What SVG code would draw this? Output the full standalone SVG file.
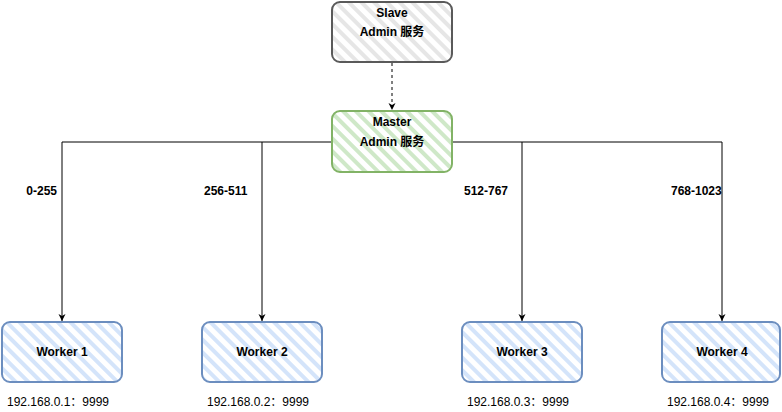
<svg xmlns="http://www.w3.org/2000/svg" width="782" height="412" viewBox="0 0 782 412">
<style>
text{font-family:"Liberation Sans","Noto Sans CJK SC",Arial,sans-serif;font-size:12px;fill:#000}
.b{font-weight:bold}
.c{text-anchor:middle}
.e{fill:none;stroke:#000;stroke-width:1}
</style>
<defs>
<pattern id="hg" width="9" height="9" patternUnits="userSpaceOnUse" patternTransform="rotate(-45)"><rect width="4" height="9" fill="#e6e6e6"/></pattern>
<pattern id="hgr" width="9" height="9" patternUnits="userSpaceOnUse" patternTransform="rotate(-45)"><rect width="4" height="9" fill="#cfe8c8"/></pattern>
<pattern id="hb" width="9" height="9" patternUnits="userSpaceOnUse" patternTransform="rotate(-45)"><rect width="4" height="9" fill="#d4e4fa"/></pattern>
<marker id="ar" markerWidth="8" markerHeight="8" refX="7" refY="4" orient="auto" markerUnits="userSpaceOnUse"><path d="M0,0.5 L7,4 L0,7.5 L2,4 Z" fill="#000"/></marker>
</defs>
<g id="connectors">
<path class="e" d="M392,63 V110" stroke-dasharray="3 3" marker-end="url(#ar)"/>
<path class="e" d="M332,142 H62 V321" marker-end="url(#ar)"/>
<path class="e" d="M262,142 V321" marker-end="url(#ar)"/>
<path class="e" d="M452,142 H722 V321" marker-end="url(#ar)"/>
<path class="e" d="M522,142 V321" marker-end="url(#ar)"/>
</g>
<g id="slave">
<rect x="332" y="2" width="120" height="60" rx="8" fill="url(#hg)" stroke="#5a5a5a" stroke-width="2"/>
<text class="b c" x="392" y="17">Slave</text>
<text class="b c" x="392" y="36">Admin 服务</text>
</g>
<g id="master">
<rect x="332" y="111" width="120" height="61" rx="8" fill="url(#hgr)" stroke="#82b366" stroke-width="2"/>
<text class="b c" x="392" y="126">Master</text>
<text class="b c" x="392" y="146">Admin 服务</text>
</g>
<g id="label-0-255"><text class="b" x="57" y="195" text-anchor="end">0-255</text></g>
<g id="label-256-511"><text class="b" x="204" y="195">256-511</text></g>
<g id="label-512-767"><text class="b" x="464" y="195">512-767</text></g>
<g id="label-768-1023"><text class="b" x="671" y="195">768-1023</text></g>
<g id="worker1">
<rect x="2" y="322" width="120" height="60" rx="8" fill="url(#hb)" stroke="#6c8ebf" stroke-width="2"/>
<text class="b c" x="62" y="356">Worker 1</text>
<text class="c" x="58" y="406">192.168.0.1：9999</text>
</g>
<g id="worker2">
<rect x="202" y="322" width="120" height="60" rx="8" fill="url(#hb)" stroke="#6c8ebf" stroke-width="2"/>
<text class="b c" x="262" y="356">Worker 2</text>
<text class="c" x="258" y="406">192.168.0.2：9999</text>
</g>
<g id="worker3">
<rect x="462" y="322" width="120" height="60" rx="8" fill="url(#hb)" stroke="#6c8ebf" stroke-width="2"/>
<text class="b c" x="522" y="356">Worker 3</text>
<text class="c" x="518" y="406">192.168.0.3：9999</text>
</g>
<g id="worker4">
<rect x="662" y="322" width="118" height="60" rx="8" fill="url(#hb)" stroke="#6c8ebf" stroke-width="2"/>
<text class="b c" x="722" y="356">Worker 4</text>
<text class="c" x="718" y="406">192.168.0.4：9999</text>
</g>
</svg>
